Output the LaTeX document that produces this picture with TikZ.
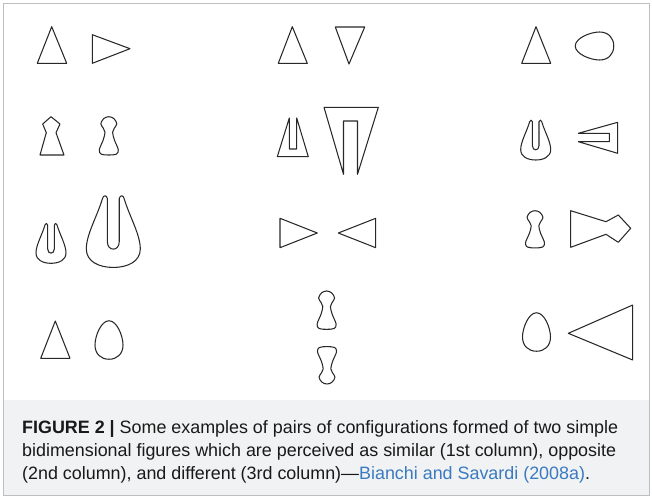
\documentclass[tikz,border=0pt]{standalone}
\usepackage{fontspec}
\setmainfont{Liberation Sans}
\definecolor{linkblue}{RGB}{58,122,192}
\definecolor{inkgray}{RGB}{40,40,40}
\definecolor{capfill}{RGB}{241,242,243}
\definecolor{framegray}{RGB}{190,190,190}
\begin{document}
\begin{tikzpicture}[x=1pt,y=-1pt,line join=round,
  outline/.style={draw=inkgray,line width=1.05pt},
  fork/.pic={\draw[outline] (-6,1) .. controls (-5.5,-1) and (-3.8,-1) .. (-3.3,1)
      -- (-3.3,25) .. controls (-3.3,30.5) and (3.3,30.5) .. (3.3,25)
      -- (3.3,1) .. controls (3.8,-1) and (5.5,-1) .. (6,1)
      .. controls (9,11) and (15,21) .. (15,29)
      .. controls (15,36) and (8,39.3) .. (0,39.3)
      .. controls (-8,39.3) and (-15,36) .. (-15,29)
      .. controls (-15,21) and (-9,11) .. (-6,1) -- cycle;},
  pawn/.pic={\draw[outline] plot[smooth cycle,tension=0.55] coordinates {(0,0) (5,1.8) (8,7) (5.5,11.5) (3.8,15.5) (5.5,23) (9.5,33) (7.5,37.5) (0,38.3) (-7.5,37.5) (-9.5,33) (-5.5,23) (-3.8,15.5) (-5.5,11.5) (-8,7) (-5,1.8)};},
  egg/.pic={\draw[outline] (0,-19.25) .. controls (8,-19.25) and (14,-4) .. (14,5)
      .. controls (14,14) and (8,19.25) .. (0,19.25)
      .. controls (-8,19.25) and (-14,14) .. (-14,5)
      .. controls (-14,-4) and (-8,-19.25) .. (0,-19.25) -- cycle;},
  captext/.style={anchor=base west,inner sep=0pt,text=black!90,font=\fontsize{17.9}{23}\selectfont}]
\useasboundingbox (0,0) rectangle (652,498);
% frame and caption panel
\fill[capfill] (3,400) rectangle (649,495);
\draw[framegray,line width=0.8pt] (3,3) rectangle (649,495);

% ---- row 1
\draw[outline] (51.7,26.7) -- (66.7,63.3) -- (37.3,63.3) -- cycle;
\draw[outline] (92.3,34.7) -- (130,48.7) -- (92.3,63.3) -- cycle;
\draw[outline] (292.3,26.7) -- (307.3,63.3) -- (278.3,63.3) -- cycle;
\draw[outline] (335.3,27) -- (364.7,27) -- (349,64) -- cycle;
\draw[outline] (536,26.7) -- (550.7,63.3) -- (521.7,63.3) -- cycle;
\pic[rotate=90] at (594.5,46) {egg};

% ---- row 2
\draw[outline] (51,116.7) -- (60,124) -- (56,132.7) -- (64,155) -- (40,155) -- (46.3,132.7) -- (42.7,124) -- cycle;
\pic at (108.8,116.7) {pawn};
\draw[outline] (277.3,156.7) -- (289.3,118) -- (289.3,149) -- (296.7,149) -- (296.7,118) -- (308.3,156.7) -- cycle;
\draw[outline] (324,107.3) -- (378.3,107.3) -- (357.5,174.3) -- (357.5,121) -- (343.5,121) -- (343.5,174.3) -- cycle;
\pic at (535.7,120.7) {fork};
\draw[outline] (617.7,122.3) -- (617.7,153.3) -- (578.3,141.7) -- (609.3,141.7) -- (609.3,133.3) -- (578.3,133.3) -- cycle;

% ---- row 3
\pic at (51,224) {fork};
\pic[scale=1.8] at (113.3,196.7) {fork};
\draw[outline] (280,218.3) -- (317.3,233) -- (280,247.7) -- cycle;
\draw[outline] (375.7,218.3) -- (338.3,233) -- (375.7,247.7) -- cycle;
\pic[yscale=0.97] at (535,210.7) {pawn};
\draw[outline] (570.7,210.7) -- (606,221.7) -- (618.3,215) -- (630.7,228.3) -- (618.3,242.3) -- (606,234.3) -- (570.7,247.3) -- cycle;

% ---- row 4
\draw[outline] (55.3,321) -- (70,358.3) -- (40.7,358.3) -- cycle;
\pic at (109,340) {egg};
\pic at (326.6,291) {pawn};
\pic[yscale=-0.975] at (327,384) {pawn};
\pic at (536.5,332) {egg};
\draw[outline] (568.3,333.3) -- (632.7,305) -- (632.7,360) -- cycle;

% ---- caption
\node[captext] (cap1) at (22,433) {\textbf{FIGURE 2 |} Some examples of pairs of configurations formed of two simple};
\node[captext] (cap2) at (22,456) {bidimensional figures which are perceived as similar (1st column), opposite};
\node[captext] (cap3) at (22,479) {(2nd column), and different (3rd column)—\textcolor{linkblue}{Bianchi and Savardi (2008a)}.};
\end{tikzpicture}
\end{document}
